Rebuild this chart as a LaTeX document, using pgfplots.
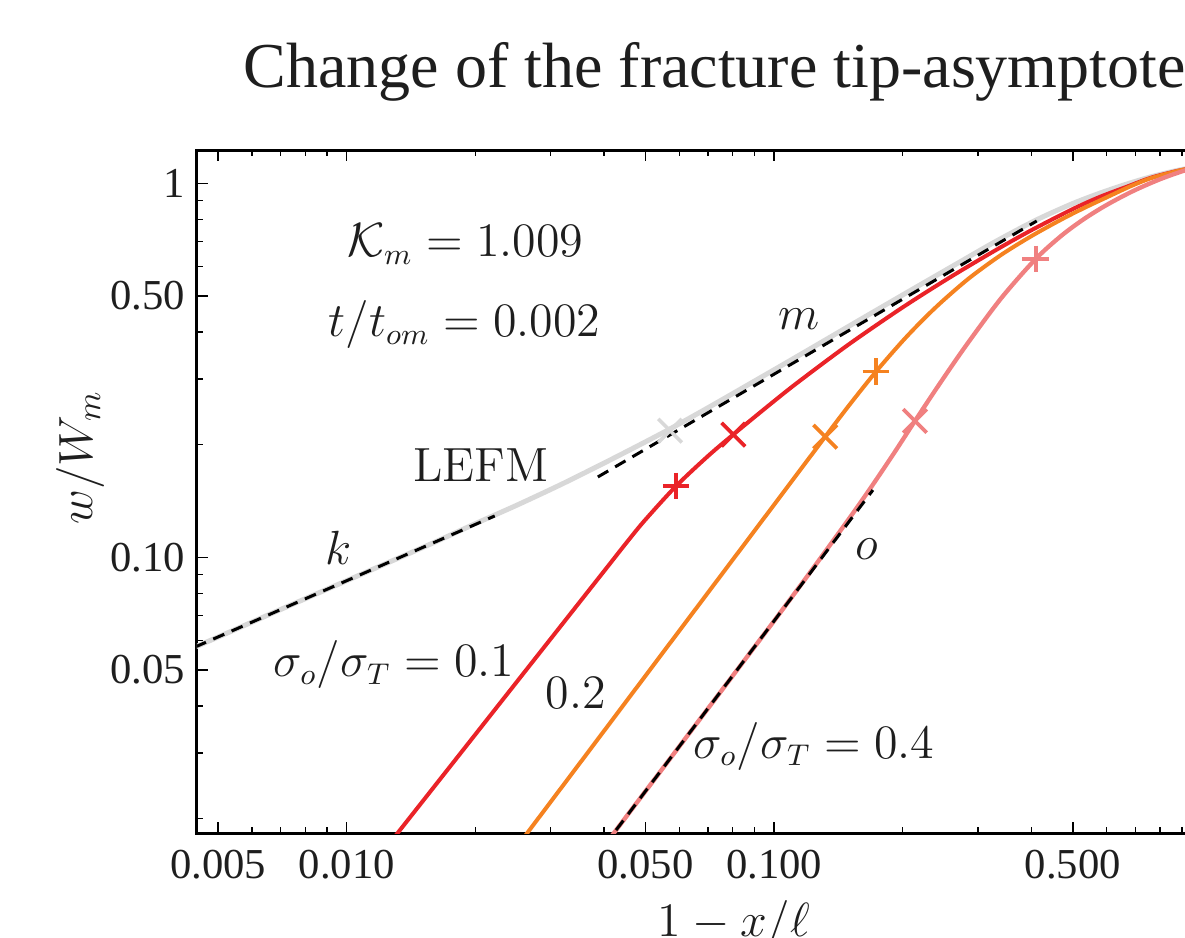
\documentclass[border=0pt]{standalone}
\usepackage[no-math]{fontspec}
\setmainfont{Liberation Serif}
\usepackage{pgfplots}
\pgfplotsset{compat=1.18}
\definecolor{cgray}{RGB}{216,216,216}
\definecolor{cred}{RGB}{234,35,40}
\definecolor{corange}{RGB}{245,130,32}
\definecolor{cpink}{RGB}{240,128,128}
\definecolor{txt}{RGB}{30,30,30}
\begin{document}
\begin{tikzpicture}
\begin{axis}[
  xmode=log, ymode=log,
  scale only axis,
  width=301.35pt, height=204.9pt,
  xmin=0.004464, xmax=1, ymin=0.018317, ymax=1.2274,
  axis line style={line width=0.9pt, black},
  xtick={0.005,0.01,0.05,0.1,0.5},
  xticklabels={0.005,0.010,0.050,0.100,0.500},
  minor xtick={0.006,0.007,0.008,0.009,0.02,0.03,0.04,0.06,0.07,0.08,0.09,0.2,0.3,0.4,0.6,0.7,0.8,0.9},
  ytick={0.05,0.1,0.5,1},
  yticklabels={0.05,0.10,0.50,1},
  minor ytick={0.02,0.03,0.04,0.06,0.07,0.08,0.09,0.2,0.3,0.4,0.6,0.7,0.8,0.9},
  major tick length=3.2pt, minor tick length=1.8pt,
  tick style={line width=0.4pt, black},
  ticklabel style={font=\fontsize{12.8}{15}\selectfont, text=txt},
  xticklabel style={yshift=-1.5pt},
  /pgf/number format/assume math mode=true,
  clip=true,
]
% LEFM (gray)
\addplot[cgray, line width=1.5pt, smooth, tension=0.5] coordinates {
(0.004,0.0548) (0.005,0.0612) (0.007,0.0725) (0.01,0.0866) (0.013,0.0987)
(0.016,0.1095) (0.02,0.1230) (0.025,0.1378) (0.0316,0.1562) (0.0387,0.1752)
(0.0471,0.1965) (0.0571,0.2205) (0.07,0.2510) (0.0928,0.3020) (0.115,0.3480)
(0.15,0.4155) (0.2,0.5030) (0.26,0.5980) (0.33,0.6990) (0.4116,0.7990)
(0.5,0.8830) (0.58,0.9420) (0.67,0.9960) (0.758,1.039) (0.85,1.0735)
(0.915,1.0926) (1.0,1.112)};
% sigma = 0.1 (red)
\addplot[cred, line width=1.2pt, smooth, tension=0.5] coordinates {
(0.0118,0.01564) (0.02,0.0336) (0.03,0.0605) (0.04,0.0918) (0.0456,0.1110)
(0.05,0.1261) (0.059,0.1551) (0.07,0.1864) (0.08,0.2123) (0.1,0.2616)
(0.115,0.2967) (0.15,0.3719) (0.2,0.4660) (0.258,0.5605) (0.33,0.6625)
(0.4,0.7492) (0.5,0.8536) (0.58,0.9208) (0.67,0.9798) (0.758,1.033)
(0.85,1.070) (0.915,1.090) (1.0,1.110)};
% sigma = 0.2 (orange)
\addplot[corange, line width=1.2pt, smooth, tension=0.5] coordinates {
(0.025,0.01681) (0.04,0.03433) (0.06,0.0636) (0.0878,0.1134) (0.11,0.1598)
(0.1317,0.2101) (0.15,0.2554) (0.1732,0.3137) (0.2,0.3790) (0.225,0.4361)
(0.25,0.4887) (0.2874,0.5600) (0.34,0.6438) (0.4,0.7225) (0.47,0.8000)
(0.53,0.8577) (0.6,0.9171) (0.68,0.9800) (0.758,1.030) (0.85,1.068)
(0.915,1.090) (1.0,1.110)};
% sigma = 0.4 (pink)
\addplot[cpink, line width=1.3pt, smooth, tension=0.5] coordinates {
(0.04,0.0169) (0.06,0.0312) (0.08,0.0482) (0.1,0.0676) (0.12,0.0895)
(0.14,0.1140) (0.1557,0.1350) (0.1703,0.1565) (0.19,0.1885) (0.2136,0.2315)
(0.245,0.2931) (0.2822,0.3703) (0.34,0.4930) (0.4093,0.6276) (0.47,0.7241)
(0.53,0.8014) (0.6,0.8752) (0.6922,0.9537) (0.8,1.0253) (0.915,1.0825) (1.0,1.110)};
% asymptotes
\addplot[black, line width=0.9pt, dash pattern=on 3.6pt off 2.4pt] coordinates {(0.004,0.05477) (0.0222,0.129)};
\addplot[black, line width=0.9pt, dash pattern=on 3.6pt off 2.4pt] coordinates {(0.0387,0.164) (0.4116,0.793)};
\addplot[black, line width=0.9pt, dash pattern=on 3.6pt off 2.4pt] coordinates {(0.04,0.0169) (0.1703,0.1513)};
% markers
\addplot[only marks, mark=x, mark size=5pt, cgray, mark options={line width=1.1pt}] coordinates {(0.0571,0.218)};
\addplot[only marks, mark=+, mark size=4pt, cred, mark options={line width=1.1pt}] coordinates {(0.05898,0.1551)};
\addplot[only marks, mark=x, mark size=5pt, cred, mark options={line width=1.1pt}] coordinates {(0.0803,0.2128)};
\addplot[only marks, mark=x, mark size=5pt, corange, mark options={line width=1.1pt}] coordinates {(0.1317,0.2101)};
\addplot[only marks, mark=+, mark size=4pt, corange, mark options={line width=1.1pt}] coordinates {(0.1732,0.3137)};
\addplot[only marks, mark=x, mark size=5pt, cpink, mark options={line width=1.1pt}] coordinates {(0.2136,0.2315)};
\addplot[only marks, mark=+, mark size=4pt, cpink, mark options={line width=1.1pt}] coordinates {(0.4093,0.6276)};
\end{axis}
\begin{scope}[every node/.style={inner sep=0pt, text=txt}]
\node[anchor=base west, font=\fontsize{19.2}{22}\selectfont] at (13.8pt,223.5pt) {Change of the fracture tip-asymptote};
\node[anchor=base west, font=\fontsize{13.5}{16}\selectfont] at (45pt,172.8pt) {$\mathcal{K}_m = 1.009$};
\node[anchor=base west, font=\fontsize{13.5}{16}\selectfont] at (39.3pt,148.8pt) {$t/t_{om} = 0.002$};
\node[anchor=base west, font=\fontsize{13.5}{16}\selectfont] at (174.3pt,150.9pt) {$m$};
\node[anchor=base west, font=\fontsize{13.5}{16}\selectfont] at (64.8pt,105.3pt) {$\mathrm{LEFM}$};
\node[anchor=base west, font=\fontsize{13.5}{16}\selectfont] at (38.4pt,80.4pt) {$k$};
\node[anchor=base west, font=\fontsize{13.5}{16}\selectfont] at (197.4pt,81.9pt) {$o$};
\node[anchor=base west, font=\fontsize{13.5}{16}\selectfont] at (22.8pt,46.8pt) {$\sigma_o/\sigma_T = 0.1$};
\node[anchor=base west, font=\fontsize{13.5}{16}\selectfont] at (104.4pt,37.5pt) {$0.2$};
\node[anchor=base west, font=\fontsize{13.5}{16}\selectfont] at (148.8pt,22.5pt) {$\sigma_o/\sigma_T = 0.4$};
\node[anchor=base, font=\fontsize{14.5}{17}\selectfont] at (161.1pt,-30.9pt) {$1-x/\ell$};
\node[anchor=base, rotate=90, font=\fontsize{14.5}{17}\selectfont] at (-31.2pt,112.65pt) {$w/W_m$};
\end{scope}
\pgfresetboundingbox
\path[use as bounding box] (-59.1pt,-31.2pt) rectangle (296.4pt,249.9pt);
\end{tikzpicture}
\end{document}
